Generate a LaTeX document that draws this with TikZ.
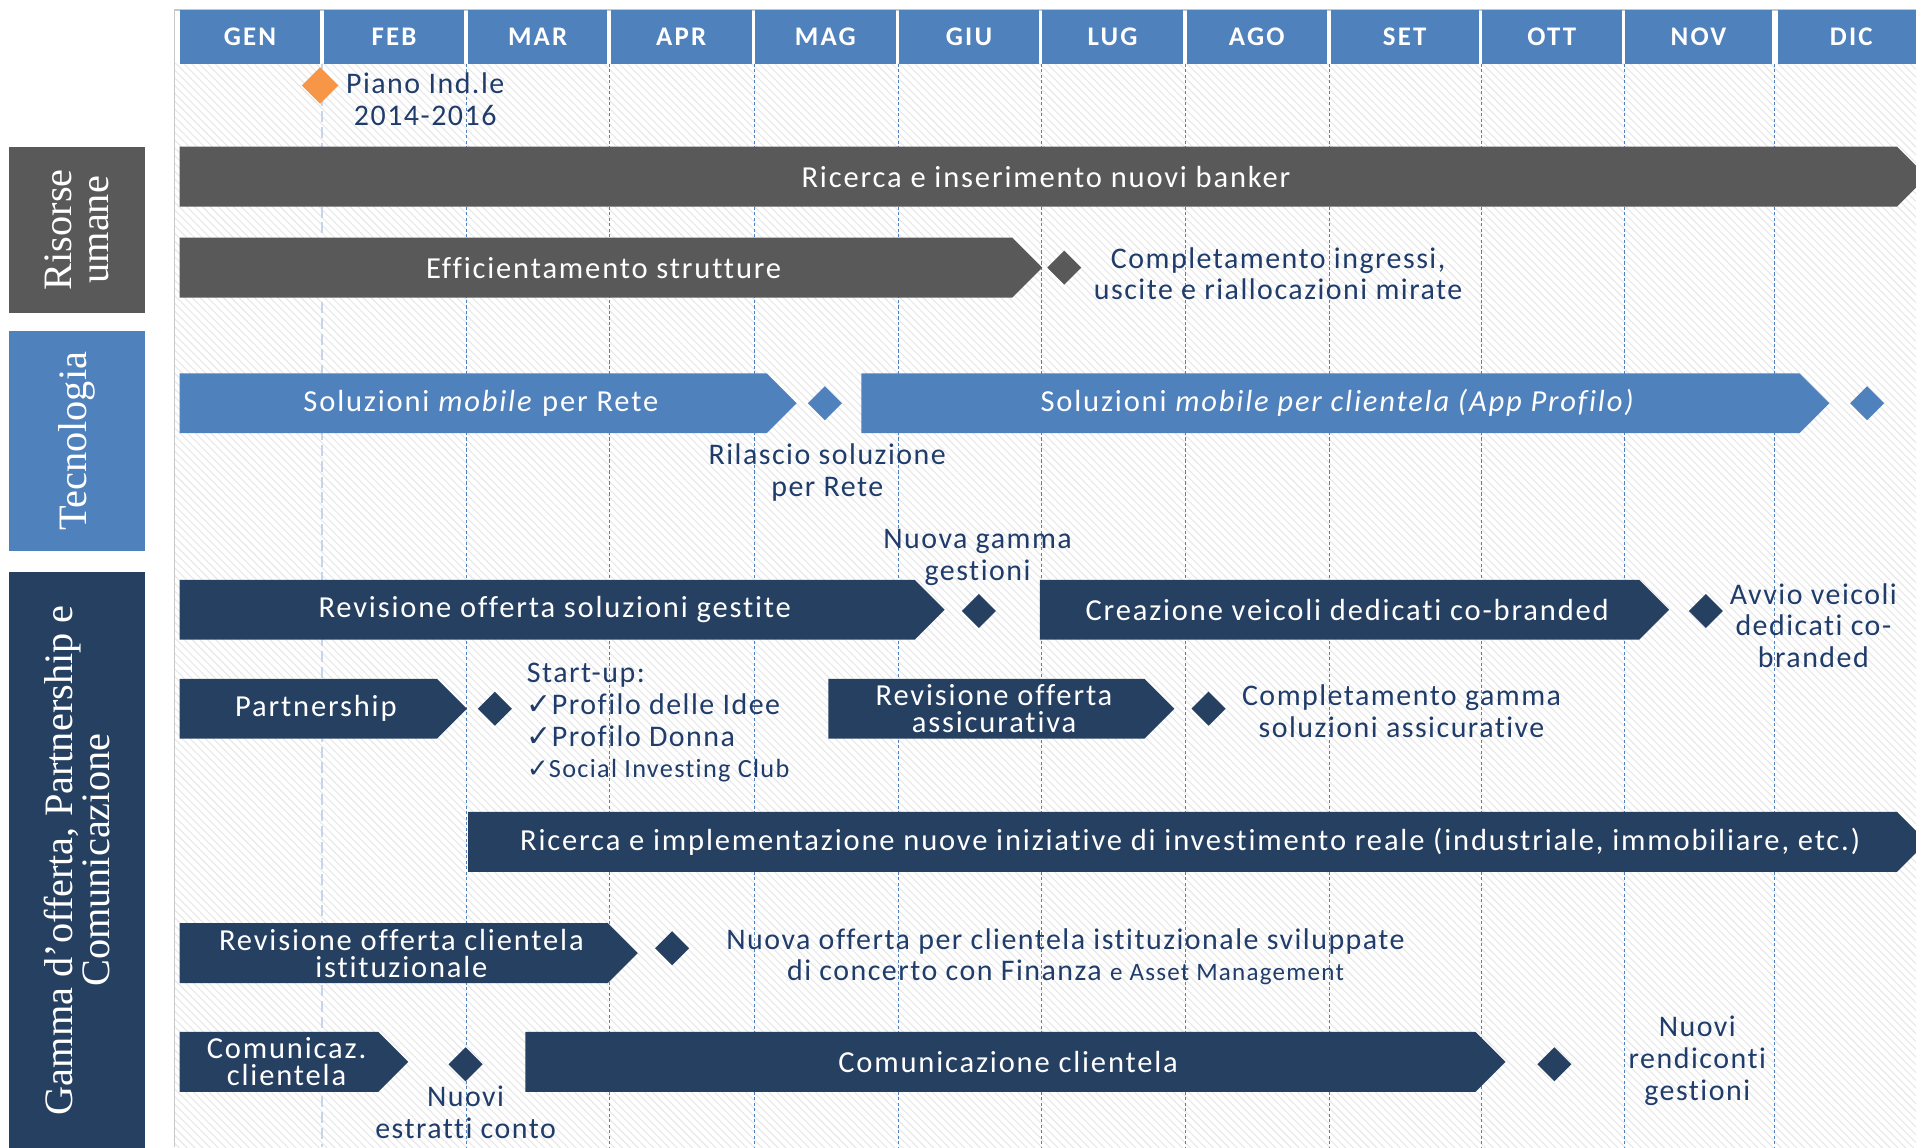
\documentclass[tikz,border=0pt]{standalone}
\usepackage{fontspec}
\setmainfont{Carlito}[Ligatures=NoCommon]
\newfontfamily\barfont{Carlito}[LetterSpace=6,Ligatures=NoCommon]
\newfontfamily\notefont{Carlito}[LetterSpace=5,Ligatures=NoCommon]
\newfontfamily\headfont{Carlito}[LetterSpace=8,Ligatures=NoCommon]
\newfontfamily\labelserif{Liberation Serif}
\newfontfamily\symfont{DejaVu Sans}
\usetikzlibrary{shapes.geometric,patterns.meta}

\definecolor{hdrblue}{HTML}{4F81BD}
\definecolor{navy}{HTML}{264062}
\definecolor{slate}{HTML}{595959}
\definecolor{inktext}{HTML}{1F3C6B}
\definecolor{orangems}{HTML}{F79646}
\definecolor{febline}{HTML}{C5D6EA}

\newcommand\tick{{\symfont\char"2713}}

% activity bar: name, start x, tip x, centre y, fill, label
\newcommand\ganttbar[6]{%
  \fill[#5] (#2,#4-24.5) -- (#3-24.5,#4-24.5) -- (#3,#4)
            -- (#3-24.5,#4+24.5) -- (#2,#4+24.5) -- cycle;
  \node[bartext] (#1) at ({(#2+#3-12)/2},#4) {#6};}

\tikzset{
  monthbox/.style={fill=hdrblue, text=white, minimum height=44pt, inner sep=0pt,
    font=\headfont\fontsize{22}{22}\selectfont\bfseries},
  catbox/.style={minimum width=112pt, inner sep=0pt, text=white},
  cattext/.style={rotate=90, text=white, align=center, inner sep=0pt,
    font=\labelserif\fontsize{33}{30}\selectfont},
  bartext/.style={text=white, align=center, inner sep=0pt,
    font=\barfont\fontsize{25}{22}\selectfont},
  note/.style={text=inktext, align=center, inner sep=0pt,
    font=\notefont\fontsize{24.5}{26}\selectfont},
  ms/.style={diamond, aspect=1, minimum width=28pt, minimum height=28pt, inner sep=0pt},
  monthline/.style={hdrblue, line width=0.7pt, dash pattern=on 2.5pt off 2pt},
}

\begin{document}
\begin{tikzpicture}[x=1pt,y=-1pt]
\useasboundingbox (0,0) rectangle (1568,939);
\clip (0,0) rectangle (1568,939);
\fill[white] (0,0) rectangle (1568,939);

% hatched chart area
\fill[pattern={Lines[angle=-45,distance=4.5pt,line width=0.9pt]}, pattern color=black!9]
  (143,52) rectangle (1568,939);
\draw[black!22, line width=1.2pt] (143,939) -- (143,8) -- (1568,8);

% month separators
\draw[febline, line width=1.6pt, dash pattern=on 9pt off 4pt] (263.5,52) -- (263.5,939);
\foreach \x in {382,499,617,735,852,970,1088,1212,1329,1452}
  \draw[monthline] (\x,52) -- (\x,939);

% month header
\foreach \a/\b/\t in {147/262/GEN,265/380/FEB,383/497/MAR,500/615/APR,618/733/MAG,
    736/850/GIU,853/968/LUG,971/1086/AGO,1089/1210/SET,1213/1327/OTT,1330/1450/NOV,
    1455/1575/DIC}
  \node[monthbox, minimum width={(\b-\a)*1pt}] (m\t) at ({(\a+\b)/2},30) {\t};

% category panels
\node[catbox, fill=slate, minimum height=136pt] (hr) at (63,188) {};
\node[cattext] (hrlabel) at (hr.center) {Risorse\\umane};
\node[catbox, fill=hdrblue, minimum height=180pt] (tech) at (63,361) {};
\node[cattext] (techlabel) at (tech.center) {Tecnologia};
\node[catbox, fill=navy, minimum height=480pt] (offer) at (63,708) {};
\node[cattext] (offerlabel) at (63,704) {Gamma d’offerta, Partnership e\\Comunicazione};

% milestone
\node[ms, fill=orangems, minimum width=30pt, minimum height=30pt] (piano) at (262,70) {};
\node[note] (pianotxt) at (348,81) {Piano Ind.le\\2014-2016};

% Risorse umane
\ganttbar{banker}{147}{1577}{144.5}{slate}{Ricerca e inserimento nuovi banker}
\ganttbar{effic}{147}{853}{219}{slate}{Efficientamento strutture}
\node[ms, fill=slate] (efficms) at (871,219) {};
\node[note] (effictxt) at (1046,224) {Completamento ingressi,\\uscite e riallocazioni mirate};

% Tecnologia
\ganttbar{mobrete}{147}{652}{330}{hdrblue}{Soluzioni \textit{mobile} per Rete}
\node[ms, fill=hdrblue] (mobretems) at (675,330) {};
\node[note] (mobretetxt) at (677,387) {Rilascio soluzione\\per Rete};
\ganttbar{mobcli}{705}{1497}{330}{hdrblue}{Soluzioni \textit{mobile per clientela (App Profilo)}}
\node[ms, fill=hdrblue] (mobclims) at (1528,330) {};

% Gamma d'offerta
\ganttbar{gestite}{147}{773}{499}{navy}{Revisione offerta soluzioni gestite}
\node[ms, fill=navy] (gestitems) at (801,500) {};
\node[note] (gestitetxt) at (800,456) {Nuova gamma\\gestioni};
\ganttbar{cobrand}{851}{1366}{499}{navy}{Creazione veicoli dedicati co-branded}
\node[ms, fill=navy] (cobrandms) at (1396,500) {};
\node[note] (cobrandtxt) at (1484,512) {Avvio veicoli\\dedicati co-\\branded};

\ganttbar{partner}{147}{382}{580}{navy}{Partnership}
\node[ms, fill=navy] (partnerms) at (405,580) {};
\node[note, align=left, anchor=west] (startup) at (431,591.5)
  {Start-up:\\\tick Profilo delle Idee\\\tick Profilo Donna\\
   {\fontsize{21.5}{21}\selectfont\tick Social Investing Club}};
\ganttbar{assic}{678}{961}{580}{navy}{Revisione offerta\\assicurativa}
\node[ms, fill=navy] (assicms) at (989,580) {};
\node[note] (assictxt) at (1147,582) {Completamento gamma\\soluzioni assicurative};

\ganttbar{reale}{383}{1577}{689}{navy}{Ricerca e implementazione nuove iniziative di investimento reale (industriale, immobiliare, etc.)}

\ganttbar{istit}{147}{522}{780}{navy}{Revisione offerta clientela\\istituzionale}
\node[ms, fill=navy] (istitms) at (550,776) {};
\node[note] (istittxt) at (872,783) {Nuova offerta per clientela istituzionale sviluppate\\
  di concerto con Finanza {\fontsize{20.5}{20}\selectfont e Asset Management}};

\ganttbar{comsmall}{147}{334}{869}{navy}{Comunicaz.\\clientela}
\node[ms, fill=navy] (comsmallms) at (381,871) {};
\node[note] (comsmalltxt) at (381,910) {Nuovi\\estratti conto};
\ganttbar{comcli}{430}{1232}{869}{navy}{Comunicazione clientela}
\node[ms, fill=navy] (comclims) at (1272,871) {};
\node[note] (comclitxt) at (1389,868) {Nuovi\\rendiconti\\gestioni};
\end{tikzpicture}
\end{document}
